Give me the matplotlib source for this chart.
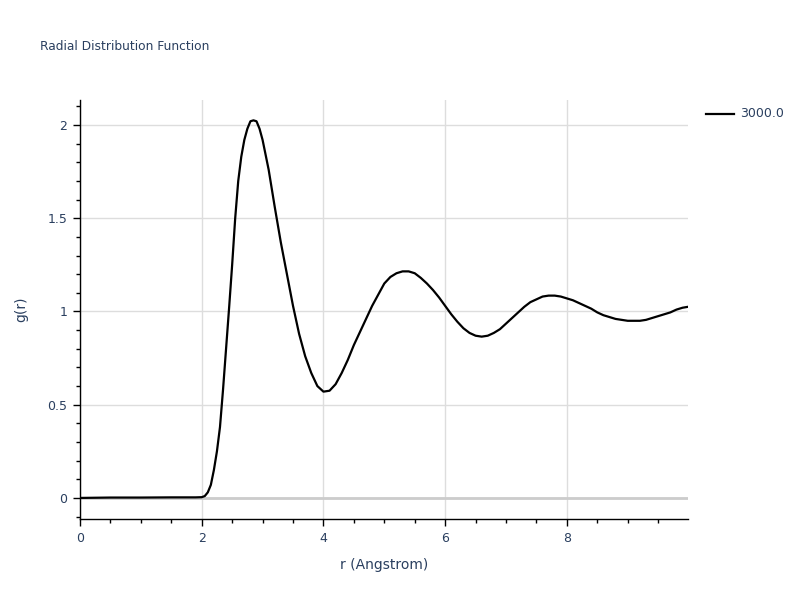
import matplotlib
matplotlib.use("Agg")
import matplotlib.pyplot as plt
from matplotlib.ticker import MultipleLocator
from matplotlib.lines import Line2D

r = [0.0, 0.5, 1.0, 1.5, 1.9, 2.0, 2.05, 2.1, 2.15, 2.2, 2.25, 2.3, 2.35, 2.4, 2.45,
     2.5, 2.55, 2.6, 2.65, 2.7, 2.75, 2.8, 2.85, 2.9, 2.95, 3.0, 3.1, 3.2, 3.3, 3.4,
     3.5, 3.6, 3.7, 3.8, 3.9, 4.0, 4.1, 4.2, 4.3, 4.4, 4.5, 4.6, 4.7, 4.8, 4.9, 5.0,
     5.1, 5.2, 5.3, 5.4, 5.5, 5.6, 5.7, 5.8, 5.9, 6.0, 6.1, 6.2, 6.3, 6.4, 6.5, 6.6,
     6.7, 6.8, 6.9, 7.0, 7.1, 7.2, 7.3, 7.4, 7.5, 7.6, 7.7, 7.8, 7.9, 8.0, 8.1, 8.2,
     8.3, 8.4, 8.5, 8.6, 8.7, 8.8, 8.9, 9.0, 9.1, 9.2, 9.3, 9.4, 9.5, 9.6, 9.7, 9.8,
     9.9, 9.99]
g = [0.0, 0.002, 0.002, 0.003, 0.003, 0.004, 0.01, 0.03, 0.07, 0.15, 0.25, 0.38, 0.58, 0.80, 1.02,
     1.25, 1.50, 1.70, 1.83, 1.92, 1.98, 2.02, 2.025, 2.02, 1.98, 1.92, 1.76, 1.56, 1.37, 1.20,
     1.03, 0.88, 0.76, 0.67, 0.60, 0.57, 0.575, 0.61, 0.67, 0.74, 0.82, 0.89, 0.96, 1.03, 1.09, 1.15,
     1.185, 1.205, 1.215, 1.215, 1.205, 1.18, 1.15, 1.115, 1.075, 1.03, 0.985, 0.945, 0.91, 0.885, 0.87, 0.865,
     0.87, 0.885, 0.905, 0.935, 0.965, 0.995, 1.025, 1.05, 1.065, 1.08, 1.085, 1.085, 1.08, 1.07, 1.06, 1.045,
     1.03, 1.015, 0.995, 0.98, 0.97, 0.96, 0.955, 0.95, 0.95, 0.95, 0.955, 0.965, 0.975, 0.985, 0.995, 1.01,
     1.02, 1.025]
series_name = "3000.0"

txt = "#2a3f5f"
fig = plt.figure(figsize=(8, 6), dpi=100)
ax = fig.add_axes([0.1, 0.135, 0.76, 0.6983])
ax.plot(r, g, color="black", lw=1.6, zorder=3)
ax.set_xlim(0, 9.99)
ax.set_ylim(-0.113, 2.134)

ax.xaxis.set_major_locator(MultipleLocator(2))
ax.xaxis.set_minor_locator(MultipleLocator(0.5))
ax.yaxis.set_major_locator(MultipleLocator(0.5))
ax.yaxis.set_minor_locator(MultipleLocator(0.1))
ax.grid(True, which="major", color="#dddddd", lw=1, zorder=0)
ax.axhline(0, color="#cccccc", lw=2, zorder=1)
ax.set_axisbelow(True)

for s in ["top", "right"]:
    ax.spines[s].set_visible(False)
for s in ["left", "bottom"]:
    ax.spines[s].set_color("black")
    ax.spines[s].set_linewidth(1)
ax.tick_params(which="major", direction="out", length=5, width=1, color="black",
               labelsize=9, labelcolor=txt, pad=4)
ax.tick_params(which="minor", direction="out", length=3, width=1, color="black")
ax.xaxis.set_major_formatter(matplotlib.ticker.FuncFormatter(lambda v, p: f"{v:g}"))
ax.yaxis.set_major_formatter(matplotlib.ticker.FuncFormatter(lambda v, p: f"{v:g}"))

ax.set_xlabel("r (Angstrom)", fontsize=10, color=txt, labelpad=10)
ax.set_ylabel("g(r)", fontsize=10, color=txt, labelpad=14)

fig.text(40/800, 1 - 46/600, "Radial Distribution Function", fontsize=8.8, color=txt,
         va="center", ha="left")

fig.add_artist(Line2D([706/800, 734/800], [1 - 114/600, 1 - 114/600], color="black", lw=1.6))
fig.text(740/800, 1 - 114/600, series_name, fontsize=9, color=txt, va="center", ha="left")

fig.savefig("out.png", dpi=100)
